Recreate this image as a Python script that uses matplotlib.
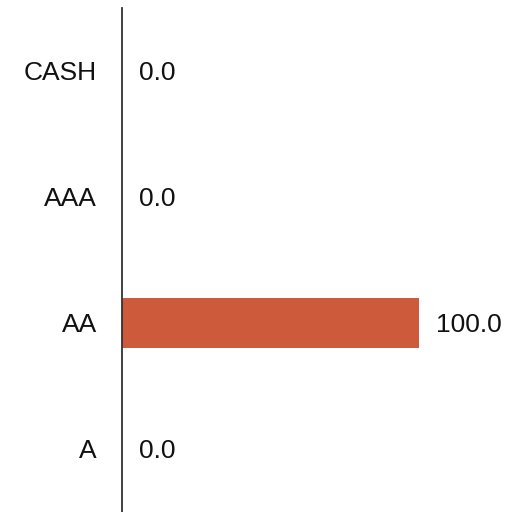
import matplotlib
matplotlib.use("Agg")
import matplotlib.pyplot as plt
from matplotlib import font_manager

categories = ["A", "AA", "AAA", "CASH"]
values = [0.0, 100.0, 0.0, 0.0]

names = {f.name for f in font_manager.fontManager.ttflist}
font = "Liberation Sans Narrow" if "Liberation Sans Narrow" in names else "Liberation Sans"
plt.rcParams["font.family"] = [font, "DejaVu Sans"]

fig = plt.figure(figsize=(5.10, 5.12), dpi=100)
ax = fig.add_axes([122 / 510, 0, 388 / 510, 504 / 512])

ax.barh(range(len(categories)), values, height=0.4, color="#CD5B3B")
for i, v in enumerate(values):
    ax.text(v + 5.6, i, f"{v:.1f}", va="center_baseline", ha="left",
            fontsize=19, color="#111111")

ax.set_xlim(0, 130.6)
ax.set_ylim(-0.5, 3.5)
ax.set_yticks(range(len(categories)))
ax.set_yticklabels(categories, fontsize=19, color="#111111", va="center_baseline")
ax.tick_params(axis="y", length=0, pad=18)
ax.set_xticks([])
for s in ["top", "right", "bottom"]:
    ax.spines[s].set_visible(False)
ax.spines["left"].set_color("#333333")
ax.spines["left"].set_linewidth(1.3)

fig.savefig("out.png", dpi=100)
